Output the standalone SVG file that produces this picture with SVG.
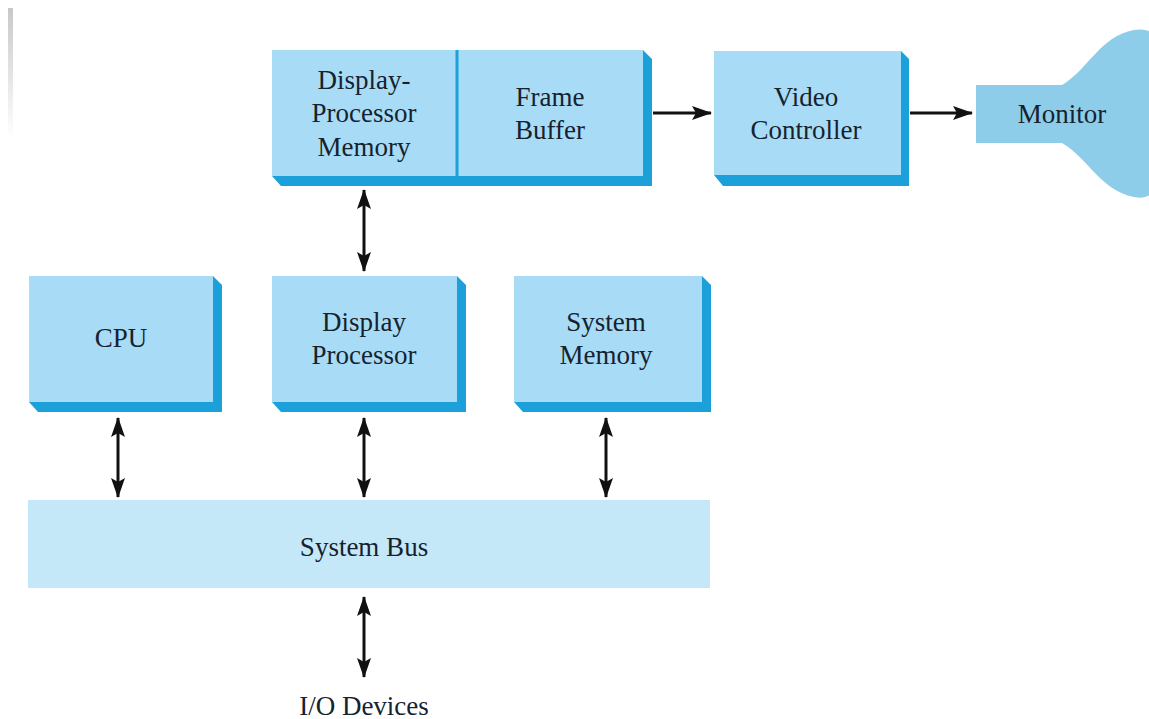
<svg xmlns="http://www.w3.org/2000/svg" width="1149" height="719" viewBox="0 0 1149 719">
<defs>
<marker id="ah" viewBox="0 0 20 14" refX="19" refY="7" markerWidth="20" markerHeight="14" markerUnits="userSpaceOnUse" orient="auto-start-reverse">
<path d="M0,0 L20,7 L0,14 L4,7 Z" fill="#111"/>
</marker>
<linearGradient id="edge" x1="0" y1="0" x2="0" y2="1">
<stop offset="0" stop-color="#c8c8c8"/>
<stop offset="1" stop-color="#ffffff"/>
</linearGradient>
</defs>
<style>
.face{fill:#a8dcf6}
.shade{fill:#1ba0da}
.bus{fill:#c5e8f9}
.mon{fill:#8dcdea}
.t{font-family:"Liberation Serif","Times New Roman",serif;font-size:27px;fill:#16222e;text-anchor:middle}
.c{stroke:#111;stroke-width:3;fill:none}
</style>
<rect width="1149" height="719" fill="#ffffff"/>
<rect x="8" y="8" width="5" height="130" fill="url(#edge)"/>

<g id="dpm-fb">
<polygon class="shade" points="643,50 652,59 652,186 281,186 272,176 643,176"/>
<rect class="face" x="272" y="50" width="371" height="126"/>
<line x1="457" y1="50" x2="457" y2="176" stroke="#1ba0da" stroke-width="3"/>
<text class="t" x="364" y="89">Display-</text>
<text class="t" x="364" y="122">Processor</text>
<text class="t" x="364" y="156">Memory</text>
<text class="t" x="550" y="106">Frame</text>
<text class="t" x="550" y="139">Buffer</text>
</g>

<g id="video-controller">
<polygon class="shade" points="901,51 909,59 909,186 723,186 714,175 901,175"/>
<rect class="face" x="714" y="51" width="187" height="124"/>
<text class="t" x="806" y="106">Video</text>
<text class="t" x="806" y="139">Controller</text>
</g>

<g id="monitor">
<path class="mon" d="M976,85 H1062 C1088,70 1100,36 1134,30 Q1149,28 1154,35 V190 Q1149,200 1134,197 C1100,190 1088,158 1062,143 H976 Z"/>
<text class="t" x="1062" y="123">Monitor</text>
</g>

<g id="cpu">
<polygon class="shade" points="213,276 222,285 222,412 38,412 29,402 213,402"/>
<rect class="face" x="29" y="276" width="184" height="126"/>
<text class="t" x="121" y="347">CPU</text>
</g>

<g id="display-processor">
<polygon class="shade" points="457,276 466,285 466,412 281,412 272,402 457,402"/>
<rect class="face" x="272" y="276" width="185" height="126"/>
<text class="t" x="364" y="331">Display</text>
<text class="t" x="364" y="364">Processor</text>
</g>

<g id="system-memory">
<polygon class="shade" points="702,276 711,285 711,412 523,412 514,402 702,402"/>
<rect class="face" x="514" y="276" width="188" height="126"/>
<text class="t" x="606" y="331">System</text>
<text class="t" x="606" y="364">Memory</text>
</g>

<g id="system-bus">
<rect class="bus" x="28" y="500" width="682" height="88"/>
<text class="t" x="364" y="556">System Bus</text>
</g>

<g id="io-devices">
<text class="t" x="364" y="715">I/O Devices</text>
</g>

<g id="connectors">
<line class="c" x1="653" y1="113" x2="711" y2="113" marker-end="url(#ah)"/>
<line class="c" x1="910" y1="113" x2="972" y2="113" marker-end="url(#ah)"/>
<line class="c" x1="364" y1="190" x2="364" y2="271" marker-start="url(#ah)" marker-end="url(#ah)"/>
<line class="c" x1="118" y1="418" x2="118" y2="497" marker-start="url(#ah)" marker-end="url(#ah)"/>
<line class="c" x1="364" y1="418" x2="364" y2="497" marker-start="url(#ah)" marker-end="url(#ah)"/>
<line class="c" x1="606" y1="418" x2="606" y2="497" marker-start="url(#ah)" marker-end="url(#ah)"/>
<line class="c" x1="364" y1="597" x2="364" y2="677" marker-start="url(#ah)" marker-end="url(#ah)"/>
</g>
</svg>
